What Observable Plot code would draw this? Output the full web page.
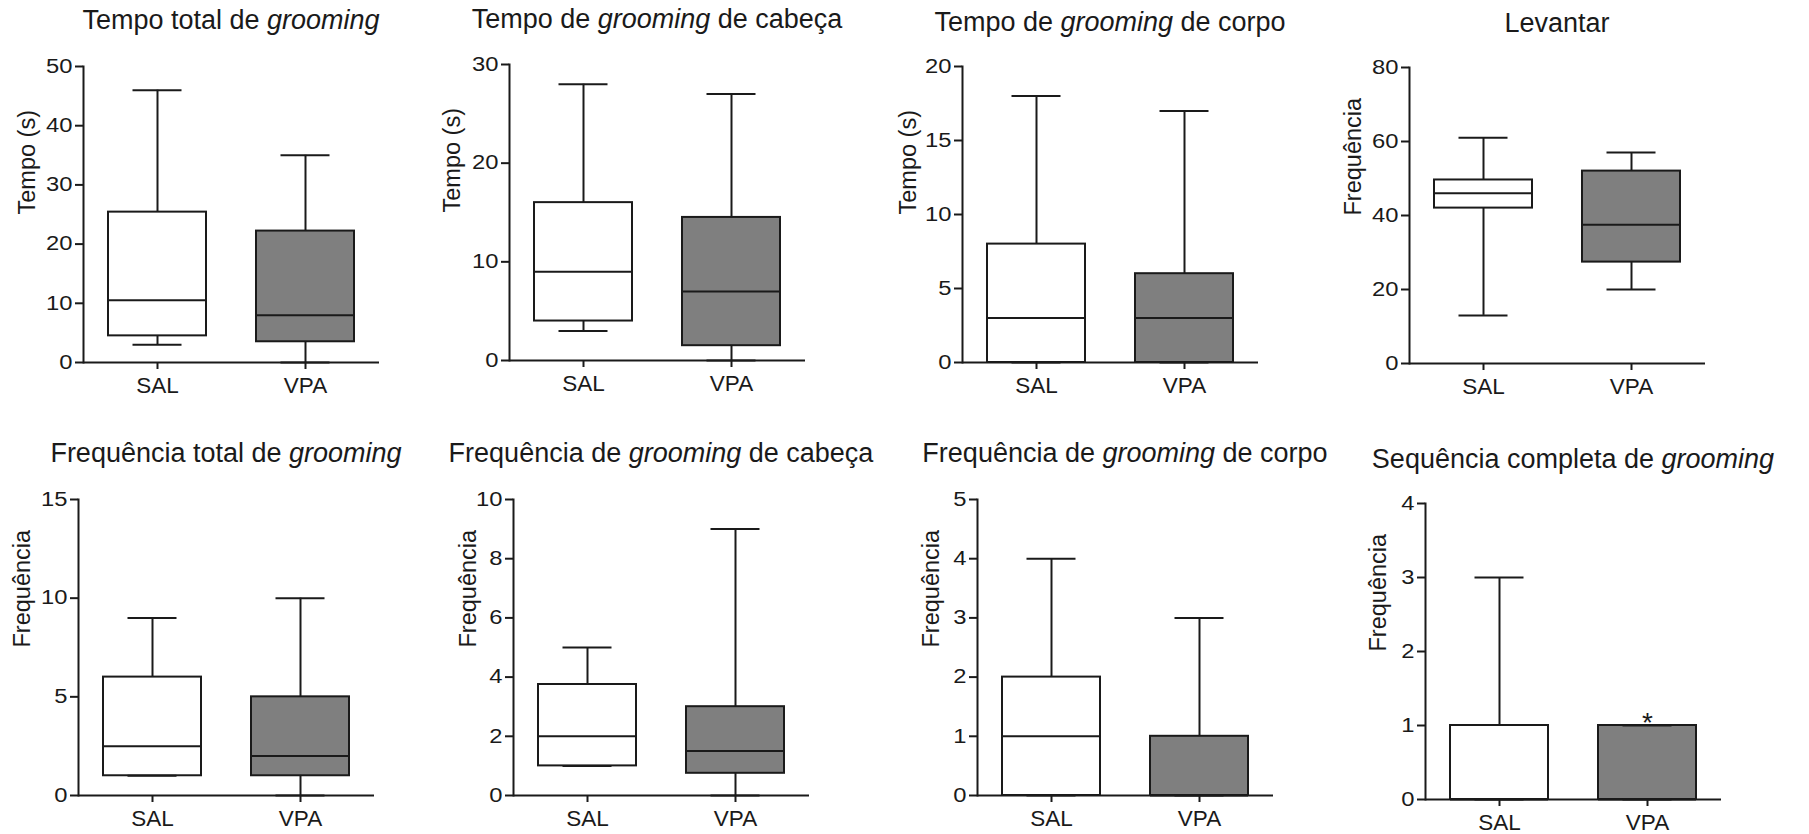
<!DOCTYPE html>
<html lang="pt">
<head>
<meta charset="utf-8">
<script src="https://cdn.jsdelivr.net/npm/d3@7"></script>
<script src="https://cdn.jsdelivr.net/npm/@observablehq/plot@0.6"></script>
<style>
  body { margin: 0; background: #fff; }
  #fig { position: relative; width: 1809px; height: 834px; overflow: hidden;
         font-family: "Liberation Sans", Arial, sans-serif; color: #1a1a1a; }
  .title { position: absolute; text-align: center; white-space: nowrap;
           font-size: 27px; line-height: 27px; }
  .panel { position: absolute; }
</style>
</head>
<body>
<div id="fig"></div>
<script>
// Groups on the x axis
const groups = ["SAL", "VPA"];

// Box-and-whisker summaries (min, quartiles, median, max) per measure
const tempoTotal = [
  {group: "SAL", min: 3, q1: 4.5, median: 10.5, q3: 25.4, max: 46},
  {group: "VPA", min: 0, q1: 3.5, median: 8, q3: 22.2, max: 35}
];
const tempoCabeca = [
  {group: "SAL", min: 3, q1: 4, median: 9, q3: 16, max: 28},
  {group: "VPA", min: 0, q1: 1.5, median: 7, q3: 14.5, max: 27}
];
const tempoCorpo = [
  {group: "SAL", min: 0, q1: 0, median: 3, q3: 8, max: 18},
  {group: "VPA", min: 0, q1: 0, median: 3, q3: 6, max: 17}
];
const levantar = [
  {group: "SAL", min: 13, q1: 42, median: 46, q3: 49.6, max: 61},
  {group: "VPA", min: 20, q1: 27.4, median: 37.5, q3: 52, max: 57}
];
const freqTotal = [
  {group: "SAL", min: 1, q1: 1, median: 2.5, q3: 6, max: 9},
  {group: "VPA", min: 0, q1: 1, median: 2, q3: 5, max: 10}
];
const freqCabeca = [
  {group: "SAL", min: 1, q1: 1, median: 2, q3: 3.75, max: 5},
  {group: "VPA", min: 0, q1: 0.75, median: 1.5, q3: 3, max: 9}
];
const freqCorpo = [
  {group: "SAL", min: 0, q1: 0, median: 1, q3: 2, max: 4},
  {group: "VPA", min: 0, q1: 0, median: 0, q3: 1, max: 3}
];
const sequenciaCompleta = [
  {group: "SAL", min: 0, q1: 0, median: 0, q3: 1, max: 3},
  {group: "VPA", min: 0, q1: 0, median: 0, q3: 1, max: 1}
];
// Significance marker
const sequenciaSignif = [{group: "VPA", value: 1, label: "*"}];

// Titles: [plain, italic, plain]
const titleParts = [
  ["Tempo total de ", "grooming", ""],
  ["Tempo de ", "grooming", " de cabeça"],
  ["Tempo de ", "grooming", " de corpo"],
  ["Levantar", "", ""],
  ["Frequência total de ", "grooming", ""],
  ["Frequência de ", "grooming", " de cabeça"],
  ["Frequência de ", "grooming", " de corpo"],
  ["Sequência completa de ", "grooming", ""]
];
const yLabels = ["Tempo (s)", "Tempo (s)", "Tempo (s)", "Frequência",
                 "Frequência", "Frequência", "Frequência", "Frequência"];
const yMaxes = [50, 30, 20, 80, 15, 10, 5, 4];
const yTickSteps = [10, 10, 5, 20, 5, 2, 1, 1];

const datasets = [tempoTotal, tempoCabeca, tempoCorpo, levantar,
                  freqTotal, freqCabeca, freqCorpo, sequenciaCompleta];

// Layout: frame top-left corner of each panel, label offsets, title baselines
const frameLeft = [83, 509, 962, 1409, 78, 513, 977, 1425];
const frameTop = [66, 64, 66, 67, 499, 499, 499, 503];
const labelDx = [-48.5, -49.5, -47, -48.5, -48.5, -38, -38.5, -40];
const titleBase = [30, 28.5, 31.5, 33, 463, 463, 463, 468.5];

const FW = 296, FH = 296;
const ML = 100, MR = 30, MT = 12, MB = 50;
const ink = "#1a1a1a";
const grey = "#7f7f7f";
const font = "Liberation Sans, Arial, sans-serif";

const fig = document.getElementById("fig");

// Widen the numeric tick labels about their right-hand anchor
function stretchTicks(svg, sx) {
  svg.querySelectorAll('g[aria-label="y-axis tick label"] text').forEach(t => {
    const old = t.getAttribute("transform");
    if (old) t.setAttribute("transform", `${old} scale(${sx},1)`);
  });
}

datasets.forEach((data, i) => {
  const step = yTickSteps[i];
  const ticks = d3.range(0, yMaxes[i] + step / 2, step);
  const marks = [
    Plot.ruleX(data, {x: "group", y1: "min", y2: "max", stroke: ink, strokeWidth: 2}),
    Plot.barY(data, {x: "group", y1: "q1", y2: "q3",
      fill: d => d.group === "SAL" ? "white" : grey, stroke: ink, strokeWidth: 2}),
    Plot.tickY(data, {x: "group", y: "median", stroke: ink, strokeWidth: 2}),
    Plot.tickY(data, {x: "group", y: "max", stroke: ink, strokeWidth: 2, insetLeft: 24.5, insetRight: 24.5}),
    Plot.tickY(data, {x: "group", y: "min", stroke: ink, strokeWidth: 2, insetLeft: 24.5, insetRight: 24.5}),
    Plot.axisY({ticks, tickFormat: d3.format("d"), tickSize: 8, tickPadding: 3,
      fontSize: 19.5, stroke: ink, fill: ink, strokeWidth: 2, label: null}),
    Plot.axisX({tickSize: 7, tickPadding: 8, fontSize: 22.5, stroke: ink, fill: ink,
      strokeWidth: 2, label: null}),
    Plot.ruleY([0], {stroke: ink, strokeWidth: 2}),
    Plot.frame({anchor: "left", stroke: ink, strokeWidth: 2}),
    Plot.text([yLabels[i]], {frameAnchor: "left", dx: labelDx[i], rotate: -90,
      lineAnchor: "bottom", fontSize: 23.5, fill: ink})
  ];
  if (data === sequenciaCompleta) {
    marks.push(Plot.text(sequenciaSignif, {x: "group", y: "value", text: "label",
      lineAnchor: "bottom", dy: 6, fontSize: 28, fill: ink}));
  }
  const svg = Plot.plot({
    width: ML + FW + MR,
    height: MT + FH + MB,
    marginLeft: ML, marginRight: MR, marginTop: MT, marginBottom: MB,
    style: {fontFamily: font, color: ink, background: "transparent", overflow: "visible"},
    x: {domain: groups, paddingInner: 0.34, paddingOuter: 0.17},
    y: {domain: [0, yMaxes[i]]},
    marks
  });
  stretchTicks(svg, 1.22);

  const div = document.createElement("div");
  div.className = "panel";
  div.style.left = (frameLeft[i] - ML) + "px";
  div.style.top = (frameTop[i] - MT) + "px";
  div.appendChild(svg);
  fig.appendChild(div);

  const title = document.createElement("div");
  title.className = "title";
  title.style.left = (frameLeft[i] - 120) + "px";
  title.style.width = (FW + 240) + "px";
  title.style.top = (titleBase[i] - 0.8465 * 27) + "px";
  const [a, b, c] = titleParts[i];
  title.append(a);
  if (b) { const em = document.createElement("i"); em.textContent = b; title.append(em); }
  if (c) title.append(c);
  fig.appendChild(title);
});
</script>
</body>
</html>
